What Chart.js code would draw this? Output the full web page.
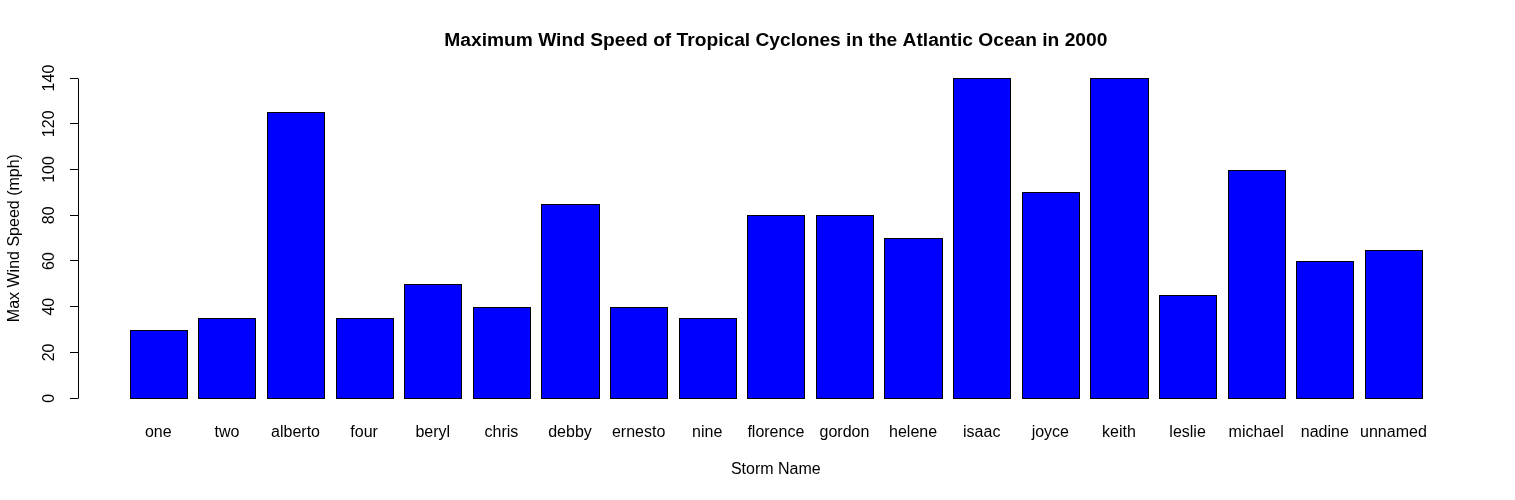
<!DOCTYPE html>
<html>
<head>
<meta charset="utf-8">
<script src="https://cdn.jsdelivr.net/npm/chart.js@4/dist/chart.umd.min.js"></script>
<style>
  html, body { margin: 0; padding: 0; background: #fff; }
  #wrap { width: 1515px; height: 500px; }
</style>
</head>
<body>
<div id="wrap"><canvas id="c" width="1515" height="500"></canvas></div>
<script>
const stormNames = ["one","two","alberto","four","beryl","chris","debby","ernesto","nine","florence","gordon","helene","isaac","joyce","keith","leslie","michael","nadine","unnamed"];
const maxWind = [30,35,125,35,50,40,85,40,35,80,80,70,140,90,140,45,100,60,65];
const yTicks = [0,20,40,60,80,100,120,140];
const titleText = "Maximum Wind Speed of Tropical Cyclones in the Atlantic Ocean in 2000";
const xTitle = "Storm Name";
const yTitle = "Max Wind Speed (mph)";

// R barplot geometry: width 1, space 0.2 -> centers at 0.7 + 1.2*i
const centers = stormNames.map((_, i) => 0.7 + 1.2 * i);
const xLo = 0.2, xHi = 1.2 * stormNames.length;
const xPad = (xHi - xLo) * 0.04;
const yPad = (yTicks[yTicks.length - 1] - yTicks[0]) * 0.04;

const FONT = "'Liberation Sans', Arial, sans-serif";

const axisLinePlugin = {
  id: 'axisLine',
  afterDatasetUpdate(chart, args) {
    // snap library-computed bar rectangles to whole pixels (crisp borders like R)
    args.meta.data.forEach(el => {
      const L = Math.round(el.x - el.width / 2);
      const R = Math.round(el.x + el.width / 2) + 1;
      const T = Math.round(Math.min(el.y, el.base));
      const B = Math.round(Math.max(el.y, el.base)) + 1;
      el.x = (L + R) / 2;
      el.width = R - L;
      el.y = T;
      el.base = B;
    });
  },
  afterDraw(chart) {
    const y = chart.scales.y;
    const ctx = chart.ctx;
    const x = Math.round(y.right) + 0.5;
    ctx.save();
    ctx.strokeStyle = '#000';
    ctx.lineWidth = 1;
    ctx.beginPath();
    ctx.moveTo(x, Math.round(y.getPixelForValue(yTicks[0])) + 0.5);
    ctx.lineTo(x, Math.round(y.getPixelForValue(yTicks[yTicks.length - 1])) + 0.5);
    ctx.stroke();
    ctx.restore();
  }
};

new Chart(document.getElementById('c'), {
  type: 'bar',
  data: {
    datasets: [{
      data: maxWind.map((v, i) => ({ x: centers[i], y: v })),
      backgroundColor: '#0000ff',
      borderColor: '#000000',
      borderWidth: 1,
      borderSkipped: false,
      categoryPercentage: 1,
      barPercentage: 1 / 1.2
    }]
  },
  options: {
    responsive: false,
    animation: false,
    devicePixelRatio: 1,
    layout: { padding: { left: 0, right: 41.3, top: 0, bottom: 0 } },
    plugins: {
      legend: { display: false },
      tooltip: { enabled: false },
      title: {
        display: true,
        fullSize: false,
        text: titleText,
        color: '#000',
        font: { family: FONT, size: 19.2, weight: 'bold' },
        padding: { top: 29.3, bottom: 12.9 }
      }
    },
    scales: {
      x: {
        type: 'linear',
        min: xLo - xPad,
        max: xHi + xPad,
        offset: false,
        afterBuildTicks: s => { s.ticks = centers.map(v => ({ value: v })); },
        afterFit: s => { s.height = 89; },
        grid: { display: false, drawTicks: false },
        border: { display: false },
        ticks: {
          autoSkip: false,
          maxRotation: 0,
          minRotation: 0,
          padding: 11.5,
          color: '#000',
          font: { family: FONT, size: 16 },
          callback: (v, i) => stormNames[i]
        },
        title: {
          display: true,
          text: xTitle,
          color: '#000',
          font: { family: FONT, size: 16 },
          padding: { top: 0, bottom: 20.5 }
        }
      },
      y: {
        type: 'linear',
        min: yTicks[0] - yPad,
        max: yTicks[yTicks.length - 1] + yPad,
        afterBuildTicks: s => { s.ticks = yTicks.map(v => ({ value: v })); },
        afterFit: s => { s.width = 78; },
        grid: { drawOnChartArea: false, drawTicks: true, tickLength: 8, color: '#000', lineWidth: 1 },
        border: { display: false },
        ticks: {
          minRotation: 90,
          maxRotation: 90,
          crossAlign: 'center',
          padding: 7.5,
          color: '#000',
          font: { family: FONT, size: 16 }
        },
        title: {
          display: true,
          text: yTitle,
          color: '#000',
          font: { family: FONT, size: 16 },
          padding: { top: 5, bottom: 0 }
        }
      }
    }
  },
  plugins: [axisLinePlugin]
});
</script>
</body>
</html>
